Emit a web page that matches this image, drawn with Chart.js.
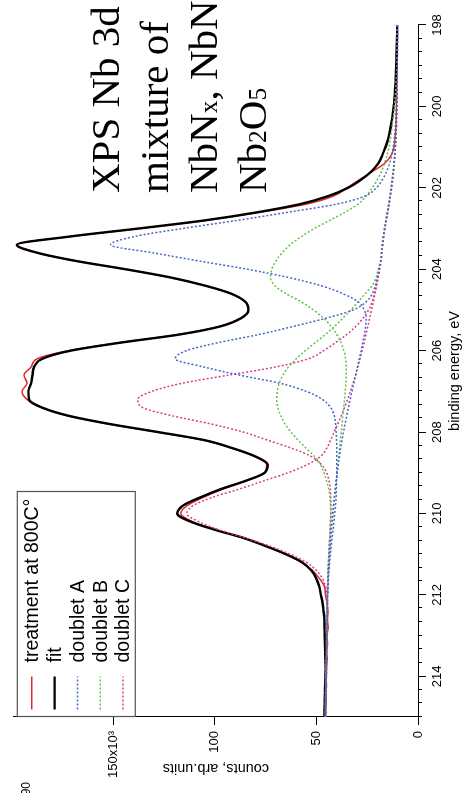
<!DOCTYPE html>
<html>
<head>
<meta charset="utf-8">
<title>XPS Nb 3d</title>
<script src="https://cdn.jsdelivr.net/npm/chart.js@4.4.1/dist/chart.umd.min.js"></script>
<style>
  html, body { margin: 0; padding: 0; background: #fff; }
  #frame { position: relative; width: 462px; height: 793px; overflow: hidden; background: #fff; }
  /* the plot is laid out landscape and turned a quarter turn to the left */
  #plot { position: absolute; left: 0; top: 0; width: 793px; height: 462px;
          transform-origin: 0 0; transform: translate(0, 793px) rotate(-90deg); }
  #xps { position: absolute; left: 0; top: 0; }
  #note { position: absolute; left: 600px; top: 81px; white-space: nowrap; color: #000;
          font: 41px/49px "Liberation Serif", "DejaVu Serif", serif; }
  #note sub { font-size: 0.62em; line-height: 0; vertical-align: baseline; }
  #edge { position: absolute; left: -9px; top: 19px; font: 12px "Liberation Sans", Arial, sans-serif; color: #000; }
</style>
</head>
<body>
<div id="frame">
  <div id="plot">
    <canvas id="xps" width="793" height="462"></canvas>
    <div id="note">XPS Nb 3d<br>mixture of<br>NbN<sub>x</sub>, NbN<br>Nb<sub>2</sub>O<sub>5</sub></div>
    <div id="edge">190</div>
  </div>
</div>
<script>
// binding energy grid, eV
const energyEv = [
  198.0, 198.2, 198.4, 198.6, 198.8, 199.0, 199.2, 199.4, 199.6, 199.8,
  200.0, 200.2, 200.4, 200.6, 200.8, 201.0, 201.2, 201.4, 201.6, 201.8,
  202.0, 202.2, 202.4, 202.6, 202.8, 203.0, 203.2, 203.4, 203.6, 203.8,
  204.0, 204.2, 204.4, 204.6, 204.8, 205.0, 205.2, 205.4, 205.6, 205.8,
  206.0, 206.2, 206.4, 206.6, 206.8, 207.0, 207.2, 207.4, 207.6, 207.8,
  208.0, 208.2, 208.4, 208.6, 208.8, 209.0, 209.2, 209.4, 209.6, 209.8,
  210.0, 210.2, 210.4, 210.6, 210.8, 211.0, 211.2, 211.4, 211.6, 211.8,
  212.0, 212.2, 212.4, 212.6, 212.8, 213.0, 213.2, 213.4, 213.6, 213.8,
  214.0, 214.2, 214.4, 214.6, 214.8, 215.0
];

// counts in thousands
const treatment800 = [
  10.3, 10.3, 10.3, 10.3, 10.3, 10.3, 10.4, 10.4, 10.5, 10.5,
  10.6, 10.7, 10.8, 11.0, 11.3, 11.8, 13.2, 16.5, 22.5, 28.8,
  35.0, 41.5, 55.0, 78.0, 104.5, 137.0, 171.5, 197.8, 187.5, 168.0,
  144.0, 122.5, 105.5, 92.0, 85.0, 83.5, 87.5, 97.5, 117.5, 146.5,
  172.0, 187.5, 190.5, 194.0, 192.5, 195.0, 192.5, 185.5, 172.5, 152.5,
  128.5, 105.5, 91.5, 80.5, 74.5, 75.5, 84.5, 96.0, 105.5, 113.5,
  116.8, 111.0, 99.5, 86.0, 75.0, 65.5, 57.5, 52.0, 48.5, 46.0,
  45.5, 44.8, 44.3, 44.6, 44.2, 44.8, 44.5, 45.0, 44.7, 45.0,
  45.2, 45.1, 45.3, 45.2, 45.4, 45.5
];

const fitCurve = [
  10.3, 10.3, 10.4, 10.5, 10.6, 10.7, 10.9, 11.0, 11.3, 11.6,
  12.0, 12.5, 13.1, 13.8, 14.7, 16.0, 17.6, 19.6, 23.0, 28.0,
  34.5, 44.0, 58.0, 79.0, 105.0, 137.7, 172.0, 197.4, 187.0, 168.0,
  144.0, 122.0, 105.0, 92.0, 85.0, 83.5, 87.0, 97.0, 117.0, 146.0,
  171.0, 185.0, 189.0, 189.8, 190.5, 191.8, 191.5, 185.0, 172.0, 152.0,
  128.0, 105.0, 91.0, 80.0, 74.0, 75.5, 85.0, 97.0, 107.0, 115.5,
  118.5, 112.0, 100.0, 86.0, 75.0, 65.0, 57.0, 52.5, 50.0, 48.6,
  47.8, 47.0, 46.5, 46.1, 46.0, 45.9, 45.8, 45.7, 45.6, 45.5,
  45.6, 45.7, 45.8, 45.9, 46.0, 46.1
];

// doublet A, 3d5/2 and 3d3/2 components on background
const doubletA1 = [
  10.2, 10.2, 10.2, 10.3, 10.3, 10.3, 10.3, 10.4, 10.4, 10.5,
  10.6, 10.8, 11.0, 11.3, 11.7, 12.2, 13.0, 14.0, 15.5, 17.5,
  20.5, 26.0, 40.0, 64.0, 89.0, 116.0, 140.0, 151.4, 130.0, 107.5,
  84.0, 64.0, 48.0, 37.0, 29.5, 26.5, 25.5, 25.8, 26.4, 27.2,
  28.0, 28.9, 29.8, 30.7, 31.6, 32.5, 33.4, 34.3, 35.1, 35.9,
  36.7, 37.4, 38.1, 38.7, 39.3, 39.8, 40.3, 40.8, 41.2, 41.6,
  42.0, 42.4, 42.8, 43.1, 43.4, 43.7, 43.9, 44.1, 44.3, 44.4,
  44.5, 44.6, 44.7, 44.7, 44.8, 44.8, 44.9, 44.9, 45.0, 45.0,
  45.1, 45.2, 45.3, 45.3, 45.4, 45.5
];
const doubletA2 = [
  10.2, 10.2, 10.2, 10.2, 10.3, 10.3, 10.3, 10.3, 10.4, 10.4,
  10.5, 10.6, 10.7, 10.8, 11.0, 11.2, 11.5, 11.8, 12.2, 12.7,
  13.2, 13.8, 14.4, 15.1, 15.8, 16.5, 17.1, 17.6, 18.0, 18.4,
  19.2, 20.0, 21.0, 22.5, 25.5, 32.0, 45.0, 61.0, 78.0, 98.0,
  114.0, 119.5, 105.5, 88.0, 68.0, 55.0, 47.0, 43.0, 41.2, 40.6,
  40.3, 40.1, 40.0, 40.0, 40.0, 40.0, 40.1, 40.2, 40.3, 40.6,
  41.0, 41.4, 41.8, 42.3, 42.7, 43.1, 43.5, 43.8, 44.1, 44.3,
  44.5, 44.6, 44.7, 44.8, 44.9, 45.0, 45.0, 45.1, 45.2, 45.3,
  45.4, 45.5, 45.5, 45.6, 45.7, 45.8
];

// doublet B
const doubletB1 = [
  10.2, 10.2, 10.3, 10.3, 10.4, 10.5, 10.6, 10.8, 11.0, 11.3,
  11.6, 12.0, 12.5, 13.0, 13.6, 14.3, 15.3, 16.5, 18.0, 20.0,
  22.5, 25.5, 29.5, 36.0, 43.5, 51.0, 57.5, 63.0, 67.0, 70.0,
  72.0, 72.6, 70.5, 65.0, 57.5, 51.5, 46.5, 42.8, 40.0, 38.0,
  36.5, 35.7, 35.3, 35.3, 35.5, 35.8, 36.2, 36.6, 37.0, 37.4,
  37.8, 38.2, 38.6, 39.0, 39.4, 39.8, 40.2, 40.6, 41.0, 41.4,
  41.8, 42.2, 42.6, 42.9, 43.2, 43.5, 43.8, 44.0, 44.2, 44.4,
  44.5, 44.6, 44.7, 44.8, 44.8, 44.9, 44.9, 45.0, 45.0, 45.1,
  45.1, 45.2, 45.3, 45.4, 45.5, 45.6
];
const doubletB2 = [
  10.2, 10.2, 10.2, 10.2, 10.3, 10.3, 10.3, 10.3, 10.4, 10.4,
  10.5, 10.6, 10.7, 10.8, 11.0, 11.2, 11.5, 11.8, 12.2, 12.7,
  13.2, 13.8, 14.4, 15.1, 15.8, 16.5, 17.1, 17.6, 18.0, 18.4,
  19.6, 20.6, 22.5, 26.0, 29.5, 33.0, 37.0, 41.0, 45.5, 50.5,
  55.5, 60.0, 63.8, 66.5, 68.3, 69.3, 69.6, 69.0, 67.5, 65.5,
  62.5, 59.0, 55.0, 51.0, 48.0, 46.3, 45.0, 44.0, 43.4, 43.1,
  43.0, 43.1, 43.3, 43.5, 43.7, 43.9, 44.1, 44.3, 44.4, 44.5,
  44.6, 44.7, 44.8, 44.9, 45.0, 45.0, 45.1, 45.1, 45.2, 45.3,
  45.4, 45.4, 45.5, 45.5, 45.6, 45.6
];

// doublet C
const doubletC1 = [
  10.1, 10.1, 10.1, 10.1, 10.2, 10.2, 10.2, 10.2, 10.3, 10.3,
  10.4, 10.5, 10.6, 10.7, 10.9, 11.1, 11.4, 11.7, 12.1, 12.5,
  13.0, 13.6, 14.2, 14.9, 15.6, 16.3, 16.9, 17.4, 17.8, 18.2,
  18.9, 19.7, 20.5, 21.4, 22.6, 24.3, 27.0, 30.5, 35.0, 40.5,
  46.5, 54.0, 70.0, 93.0, 116.0, 131.0, 138.0, 135.5, 121.0, 102.0,
  86.0, 74.0, 62.0, 52.5, 47.5, 45.0, 43.8, 43.2, 42.9, 42.8,
  42.9, 43.1, 43.3, 43.5, 43.7, 43.9, 44.1, 44.3, 44.4, 44.5,
  44.6, 44.7, 44.8, 44.9, 45.0, 45.0, 45.1, 45.1, 45.2, 45.3,
  45.4, 45.4, 45.5, 45.5, 45.6, 45.6
];
const doubletC2 = [
  10.1, 10.1, 10.1, 10.1, 10.2, 10.2, 10.2, 10.2, 10.3, 10.3,
  10.4, 10.5, 10.6, 10.7, 10.9, 11.1, 11.4, 11.7, 12.1, 12.5,
  13.0, 13.6, 14.2, 14.9, 15.6, 16.3, 16.9, 17.4, 17.8, 18.2,
  18.9, 19.6, 20.4, 21.2, 22.0, 22.9, 23.8, 24.7, 25.6, 26.5,
  27.5, 28.5, 29.6, 30.8, 32.0, 33.3, 34.7, 36.2, 37.8, 39.5,
  41.3, 43.0, 45.0, 48.0, 54.5, 64.0, 76.0, 88.0, 101.0, 110.5,
  113.8, 108.0, 98.0, 85.0, 73.0, 63.0, 55.0, 50.0, 47.0, 45.5,
  44.8, 44.6, 44.6, 44.7, 44.8, 44.9, 45.0, 45.0, 45.1, 45.2,
  45.3, 45.3, 45.4, 45.5, 45.5, 45.6
];

const energyTicks = [198, 200, 202, 204, 206, 208, 210, 212, 214];
const countTicks = [0, 50, 100, 150];
const minorPerMajor = 5;

const SANS = '"Liberation Sans", Arial, Helvetica, sans-serif';
const RED = '#e3262f';
const BLUE = '#4764c6';
const GREEN = '#63c047';
const PINK = '#d43f88';

function toPoints(ys) {
  return energyEv.map((e, i) => ({ x: e, y: ys[i] }));
}

function trace(label, ys, color, width, dotted, order, inLegend) {
  return {
    label: label,
    data: toPoints(ys),
    borderColor: color,
    backgroundColor: color,
    borderWidth: width,
    borderDash: dotted ? [2, 2] : [],
    pointRadius: 0,
    fill: false,
    cubicInterpolationMode: 'monotone',
    order: order,
    inLegend: inLegend
  };
}

// small ticks between the labelled energies
const minorTicks = {
  id: 'minorTicks',
  afterDraw(chart) {
    const sx = chart.scales.x;
    const y0 = chart.chartArea.bottom;
    const step = (energyTicks[1] - energyTicks[0]) / (minorPerMajor + 1);
    const ctx = chart.ctx;
    ctx.save();
    ctx.strokeStyle = '#000';
    ctx.lineWidth = 1;
    ctx.beginPath();
    for (let k = 1; energyTicks[0] + k * step <= sx.max + 1e-6; k++) {
      if (k % (minorPerMajor + 1) === 0) continue;
      const px = Math.round(sx.getPixelForValue(energyTicks[0] + k * step)) + 0.5;
      ctx.moveTo(px, y0);
      ctx.lineTo(px, y0 + 4);
    }
    ctx.stroke();
    ctx.restore();
  }
};

// boxed legend in the upper left corner of the plot area
const boxLegend = {
  id: 'boxLegend',
  afterDraw(chart) {
    const ctx = chart.ctx;
    const area = chart.chartArea;
    const items = chart.data.datasets.filter(d => d.inLegend);
    const left = area.left + 0.5, top = area.top + 3.5;
    const rowH = 22.8, boxW = 225, boxH = 118;
    ctx.save();
    ctx.fillStyle = '#fff';
    ctx.fillRect(left, top, boxW, boxH);
    ctx.strokeStyle = '#555';
    ctx.lineWidth = 1.2;
    ctx.strokeRect(left, top, boxW, boxH);
    ctx.font = '19.5px ' + SANS;
    ctx.textBaseline = 'middle';
    ctx.fillStyle = '#000';
    items.forEach((d, i) => {
      const cy = top + 14.5 + i * rowH;
      ctx.beginPath();
      ctx.strokeStyle = d.borderColor;
      ctx.lineWidth = d.borderWidth;
      ctx.setLineDash(d.borderDash);
      ctx.moveTo(left + 7, cy);
      ctx.lineTo(left + 40, cy);
      ctx.stroke();
      ctx.setLineDash([]);
      ctx.fillText(d.label, left + 54, cy + 1);
    });
    ctx.restore();
  }
};

new Chart(document.getElementById('xps'), {
  type: 'line',
  data: {
    datasets: [
      trace('treatment at 800C\u00b0', treatment800, RED, 1.5, false, 8, true),
      trace('fit', fitCurve, '#000', 2.4, false, 7, true),
      trace('doublet A', doubletA1, BLUE, 1.5, true, 1, true),
      trace('doublet A', doubletA2, BLUE, 1.5, true, 2, false),
      trace('doublet B', doubletB1, GREEN, 1.5, true, 3, true),
      trace('doublet B', doubletB2, GREEN, 1.5, true, 4, false),
      trace('doublet C', doubletC1, PINK, 1.5, true, 5, true),
      trace('doublet C', doubletC2, PINK, 1.5, true, 6, false)
    ]
  },
  options: {
    responsive: false,
    animation: false,
    devicePixelRatio: 1,
    layout: { padding: { left: 0, right: 25, top: 7, bottom: 0 } },
    plugins: { legend: { display: false }, tooltip: { enabled: false } },
    scales: {
      x: {
        type: 'linear',
        position: 'bottom',
        reverse: true,
        min: 198,
        max: 215,
        afterBuildTicks: s => { s.ticks = energyTicks.map(v => ({ value: v })); },
        afterFit: s => { s.height = 44; },
        grid: { drawOnChartArea: false, drawTicks: true, tickLength: 8, color: '#000', lineWidth: 1 },
        border: { display: true, color: '#000', width: 1 },
        ticks: { color: '#000', padding: 4, maxRotation: 0, minRotation: 0, autoSkip: false,
                 font: { family: SANS, size: 13 } },
        title: { display: true, text: 'binding energy, eV', color: '#000',
                 padding: { top: 0, bottom: 0 }, font: { family: SANS, size: 14.5, lineHeight: 1 } }
      },
      y: {
        type: 'linear',
        position: 'left',
        min: 0,
        max: 199,
        afterBuildTicks: s => { s.ticks = countTicks.map(v => ({ value: v })); },
        afterFit: s => { s.width = 76; },
        grid: { drawOnChartArea: false, drawTicks: true, tickLength: 8, color: '#000', lineWidth: 1 },
        border: { display: true, color: '#000', width: 1 },
        ticks: { color: '#000', padding: 6, autoSkip: false, font: { family: SANS, size: 13 },
                 callback: v => (v === 150 ? '150x10\u00b3' : String(v)) },
        title: { display: true, text: 'counts, arb.units', color: '#000',
                 padding: { top: 18, bottom: 0 }, font: { family: SANS, size: 14.5, lineHeight: 1 } }
      }
    }
  },
  plugins: [minorTicks, boxLegend]
});
</script>
</body>
</html>
